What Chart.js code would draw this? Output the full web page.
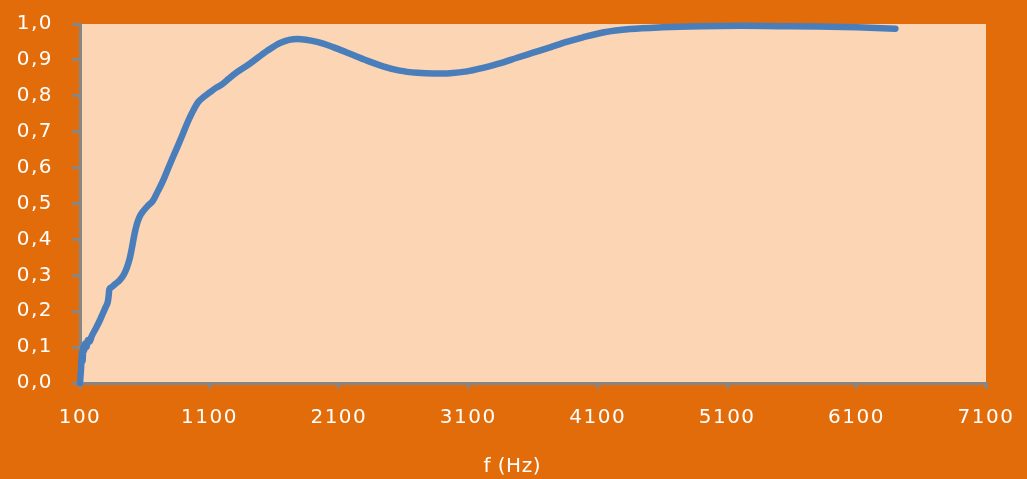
<!DOCTYPE html>
<html>
<head>
<meta charset="utf-8">
<script src="https://cdn.jsdelivr.net/npm/chart.js@4.4.1/dist/chart.umd.min.js"></script>
<style>
  html, body { margin: 0; padding: 0; background: #E36C0A; }
  #wrap { width: 1027px; height: 479px; position: relative; }
</style>
</head>
<body>
<div id="wrap"><canvas id="c" width="1027" height="479"></canvas></div>
<script>
const freqHz = [100,108,115,120,125,131,140,150,162,175,190,216,250,278,300,316,322,326,340,370,409,440,463,485,502,520,540,560,587,620,664,700,741,780,819,860,896,930,965,1012,1060,1105,1150,1197,1250,1313,1414,1545,1650,1777,1931,2060,2186,2310,2441,2570,2704,2830,2959,3090,3214,3350,3477,3600,3732,3860,3987,4150,4350,4600,4900,5200,5500,5800,6100,6250,6400];
const absorption = [0.00,0.04,0.085,0.06,0.10,0.09,0.11,0.10,0.12,0.115,0.13,0.148,0.172,0.195,0.213,0.228,0.245,0.26,0.266,0.275,0.287,0.303,0.322,0.348,0.378,0.413,0.443,0.463,0.478,0.492,0.508,0.533,0.563,0.597,0.63,0.664,0.695,0.725,0.752,0.782,0.798,0.81,0.822,0.832,0.848,0.866,0.89,0.925,0.948,0.958,0.95,0.935,0.917,0.899,0.882,0.870,0.864,0.862,0.863,0.868,0.878,0.891,0.906,0.92,0.935,0.95,0.963,0.977,0.986,0.991,0.994,0.995,0.994,0.993,0.991,0.989,0.987];
const xTickMin = 100, xTickMax = 7100, xTickStep = 1000;
const yTickMin = 0, yTickMax = 1, yTickStep = 0.1;
const xTitle = 'f (Hz)';

const FONT = 'DejaVu Sans';
const points = freqHz.map((f, i) => ({ x: f, y: absorption[i] }));

const bgPlugin = {
  id: 'bg',
  beforeDraw(chart) {
    const { ctx, chartArea: a } = chart;
    ctx.save();
    ctx.fillStyle = '#E36C0A';
    ctx.fillRect(0, 0, chart.width, chart.height);
    ctx.fillStyle = '#FCD5B5';
    ctx.fillRect(a.left, a.top, a.right - a.left, a.bottom - a.top);
    ctx.restore();
    ctx.letterSpacing = '1.5px';
  },
  afterDraw(chart) {
    const { ctx, chartArea: a } = chart;
    ctx.save();
    ctx.letterSpacing = '0.5px';
    ctx.fillStyle = '#FFFFFF';
    ctx.font = '20px "' + FONT + '"';
    ctx.textAlign = 'center';
    ctx.textBaseline = 'middle';
    ctx.fillText(xTitle, a.left + (a.right - a.left) * 0.477, 467);
    ctx.restore();
  }
};

new Chart(document.getElementById('c'), {
  type: 'line',
  data: {
    datasets: [{
      data: points,
      borderColor: '#4A7EBB',
      borderWidth: 6.5,
      borderCapStyle: 'round',
      borderJoinStyle: 'round',
      pointRadius: 0,
      fill: false,
      cubicInterpolationMode: 'monotone',
      clip: false
    }]
  },
  options: {
    responsive: false,
    animation: false,
    devicePixelRatio: 1,
    layout: { padding: { top: 24, right: 41, left: 0, bottom: 0 } },
    plugins: { legend: { display: false }, tooltip: { enabled: false } },
    scales: {
      x: {
        type: 'linear',
        min: xTickMin, max: xTickMax,
        afterFit(s) { s.height = 96; s.paddingLeft = 0; s.paddingRight = 0; },
        ticks: {
          stepSize: xTickStep,
          color: '#FFFFFF',
          font: { family: FONT, size: 20 },
          padding: 17,
          maxRotation: 0,
          autoSkip: false,
          callback: v => String(v)
        },
        grid: { drawOnChartArea: false, drawTicks: true, tickLength: 6, color: '#868686', lineWidth: 3 },
        border: { display: true, color: '#868686', width: 3 }
      },
      y: {
        min: yTickMin, max: yTickMax,
        afterFit(s) { s.width = 80; s.paddingTop = 0; s.paddingBottom = 0; },
        ticks: {
          stepSize: yTickStep,
          color: '#FFFFFF',
          font: { family: FONT, size: 20 },
          padding: 19,
          callback: v => v.toFixed(1).replace('.', ',')
        },
        grid: { drawOnChartArea: false, drawTicks: true, tickLength: 8, color: '#868686', lineWidth: 3 },
        border: { display: true, color: '#868686', width: 3 }
      }
    }
  },
  plugins: [bgPlugin]
});
</script>
</body>
</html>
